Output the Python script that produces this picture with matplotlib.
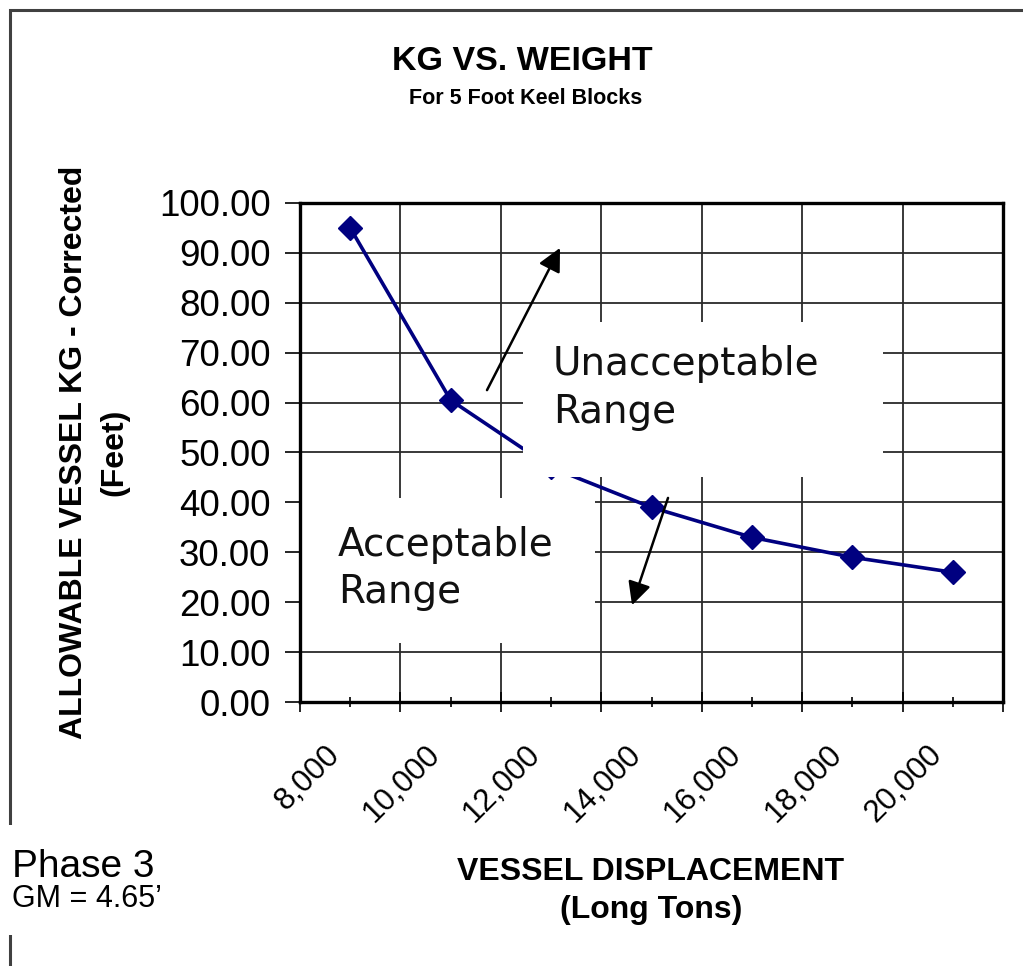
import matplotlib
matplotlib.use("Agg")
import matplotlib.pyplot as plt
from matplotlib.patches import Rectangle
from matplotlib.transforms import ScaledTranslation

# data
displacement = [8000, 10000, 12000, 14000, 16000, 18000, 20000]
allowable_kg = [95.0, 60.5, 47.0, 39.0, 33.0, 29.0, 26.0]
x_tick_labels = ["8,000", "10,000", "12,000", "14,000", "16,000", "18,000", "20,000"]
x_bounds = [7000, 9000, 11000, 13000, 15000, 17000, 19000, 21000]
y_ticks = [0, 10, 20, 30, 40, 50, 60, 70, 80, 90, 100]

plt.rcParams['font.family'] = ['Liberation Sans', 'DejaVu Sans']

W, H = 1023, 966
fig = plt.figure(figsize=(W / 100, H / 100), dpi=100)
fig.patch.set_facecolor('white')


def fx(px):
    return px / W


def fy(py):
    return 1 - py / H


ax = fig.add_axes([fx(300), fy(702), fx(1003) - fx(300), fy(203) - fy(702)])

navy = '#000080'
grid_c = '#2a2a2a'

ax.plot(displacement, allowable_kg, color=navy, lw=2.6, marker='D', ms=12,
        markerfacecolor=navy, markeredgecolor=navy, zorder=2)

ax.set_xlim(x_bounds[0], x_bounds[-1])
ax.set_ylim(0, 100)

ax.set_xticks(displacement)
ax.set_xticklabels(x_tick_labels, rotation=45, ha='right', va='center',
                   rotation_mode='anchor', fontsize=22.5)
ax.set_xticks(x_bounds, minor=True)
ax.set_yticks(y_ticks)
ax.set_yticklabels([f"{v:.2f}" for v in y_ticks], fontsize=26.5)

ax.tick_params(axis='x', which='major', direction='inout', length=7.2, width=1.2, pad=31)
ax.tick_params(axis='x', which='minor', direction='inout', length=14.4, width=1.2)
ax.tick_params(axis='y', which='major', direction='out', length=10.8, width=1.2, pad=10.5)

ax.grid(True, axis='x', which='minor', color=grid_c, lw=1.3)
ax.grid(False, axis='x', which='major')
ax.grid(True, axis='y', which='major', color=grid_c, lw=1.3)
ax.set_axisbelow(True)

for s in ax.spines.values():
    s.set_linewidth(2.4)
    s.set_color('black')
    s.set_zorder(4)

offset = ScaledTranslation(-15 / 100, 0, fig.dpi_scale_trans)
for lab in ax.xaxis.get_majorticklabels():
    lab.set_transform(lab.get_transform() + offset)

# white text boxes covering the grid
ax.add_patch(Rectangle((11440, 45.1), 7170, 31.05, facecolor='white',
                       edgecolor='none', zorder=2.3))
ax.add_patch(Rectangle((7000, 11.8), 5875, 29.1, facecolor='white',
                       edgecolor='none', zorder=2.3))
# va='baseline' on two-line text pins the last line's baseline
ax.text(12038, 55.9, "Unacceptable\nRange", fontsize=28, family='DejaVu Sans',
        ha='left', va='baseline', linespacing=1.32, color='#111111', zorder=3)
ax.text(7757, 19.8, "Acceptable\nRange", fontsize=28, family='DejaVu Sans',
        ha='left', va='baseline', linespacing=1.32, color='#111111', zorder=3)

arrow = dict(arrowstyle='-|>', color='black', lw=1.8, mutation_scale=35,
             shrinkA=0, shrinkB=0)
ax.annotate("", xy=(12178, 91.0), xytext=(10724, 62.5), arrowprops=arrow, zorder=5)
ax.annotate("", xy=(13612, 19.4), xytext=(14329, 40.9), arrowprops=arrow, zorder=5)

# titles and axis labels
fig.text(fx(522), fy(70), "KG VS. WEIGHT", ha='center', va='baseline',
         fontsize=24.5, fontweight='bold')
fig.text(fx(526), fy(104), "For 5 Foot Keel Blocks", ha='center', va='baseline',
         fontsize=15.5, fontweight='bold')

fig.text(fx(82), fy(452), "ALLOWABLE VESSEL KG - Corrected", rotation=90,
         rotation_mode='anchor', ha='center', va='baseline', fontsize=23,
         fontweight='bold')
fig.text(fx(122), fy(452), "(Feet)", rotation=90, rotation_mode='anchor',
         ha='center', va='baseline', fontsize=23, fontweight='bold')

fig.text(fx(651), fy(880), "VESSEL DISPLACEMENT", ha='center', va='baseline',
         fontsize=23, fontweight='bold')
fig.text(fx(651), fy(918), "(Long Tons)", ha='center', va='baseline',
         fontsize=23, fontweight='bold')

# outer frame, interrupted by the phase note
fig.add_artist(Rectangle((fx(10), -0.1), 1.2, fy(10) + 0.1, transform=fig.transFigure,
                         fill=False, edgecolor='#404040', lw=2.2, zorder=1))
fig.add_artist(Rectangle((0, fy(935)), fx(175), fy(825) - fy(935),
                         transform=fig.transFigure, facecolor='white',
                         edgecolor='none', zorder=2))
fig.text(fx(12), fy(877), "Phase 3", ha='left', va='baseline', fontsize=28, zorder=3)
fig.text(fx(12), fy(907), "GM = 4.65\u2019", ha='left', va='baseline', fontsize=22, zorder=3)

fig.savefig("out.png", dpi=100)
